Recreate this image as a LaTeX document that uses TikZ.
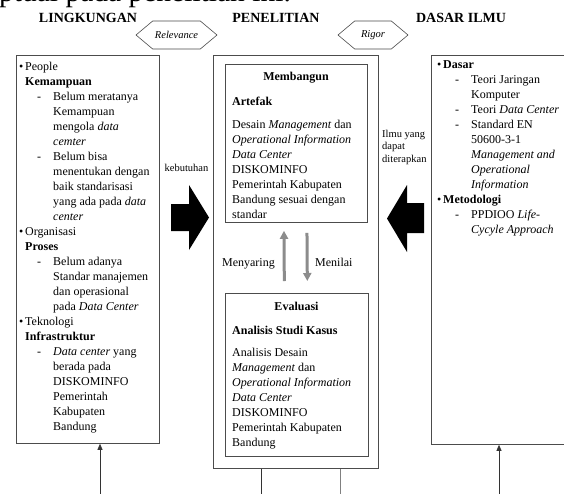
\documentclass[tikz,border=0pt]{standalone}
\usepackage{fontspec}
\setmainfont{Liberation Serif}
\usetikzlibrary{arrows.meta,positioning,shapes.symbols}

\tikzset{
  box/.style={draw=black!70, line width=0.8pt, inner sep=0pt},
  listtxt/.style={font=\fontsize{12}{15}\selectfont, align=left, inner sep=0pt, anchor=north west},
  head/.style={font=\fontsize{14}{16}\selectfont\bfseries, inner sep=0pt, anchor=base},
  hexa/.style={signal, signal to=west and east, draw=black!70, line width=0.6pt,
    signal pointer angle=80, minimum height=28pt, inner sep=0pt,
    font=\fontsize{10.5}{12}\selectfont\itshape},
  small/.style={font=\fontsize{10.5}{12.5}\selectfont, align=left, inner sep=0pt},
  graybar/.style={draw=black!45, line width=3pt, -{Triangle[width=8pt,length=8pt]}},
  feed/.style={draw=black!80, line width=0.8pt, -{Triangle[width=5pt,length=6pt]}},
}
\newcommand{\bul}{\makebox[6pt][l]{\textbullet}}
\newcommand{\ind}{\hspace*{6pt}}
\newcommand{\dsh}{\makebox[34pt][l]{\hspace*{18pt}-}}
\newcommand{\indd}{\hspace*{34pt}}

\begin{document}
\begin{tikzpicture}[x=1pt,y=-1pt]
  \useasboundingbox (0,0) rectangle (564,493);
  \fill[white] (0,0) rectangle (564,493);

  % cut-off line of the page text
  \node[font=\fontsize{29.5}{31}\selectfont, anchor=base west, inner sep=0pt] (intro) at (-1,1.5) {ptual pada penelitian ini.};

  \node[head] (hling) at (88,22.7) {LINGKUNGAN};
  \node[head] (hpenel) at (276,22.7) {PENELITIAN};
  \node[head] (hdasar) at (461,22.7) {DASAR ILMU};
  \node[hexa, minimum width=81pt] (relev) at (176.5,35) {Relevance};
  \node[hexa, minimum width=70pt] (rigor) at (373,35) {Rigor};

  % the three columns
  \node[box, anchor=north west, minimum width=143pt, minimum height=388pt] (ling) at (16,55) {};
  \node[box, anchor=north west, minimum width=165pt, minimum height=413pt] (penel) at (213,55) {};
  \node[box, anchor=north west, minimum width=145pt, minimum height=389pt] (dasar) at (431,55) {};
  \node[box, anchor=north west, minimum width=142pt, minimum height=158pt] (bangun) at (225,64) {};
  \node[box, anchor=north west, minimum width=143pt, minimum height=163pt] (eval) at (225,293) {};

  \node[listtxt] (lingtxt) at (19,59.5) {\strut\bul People\\
    \ind\textbf{Kemampuan}\\
    \dsh Belum meratanya\\
    \indd Kemampuan\\
    \indd mengola \textit{data}\\
    \indd\textit{cemter}\\
    \dsh Belum bisa\\
    \indd menentukan dengan\\
    \indd baik standarisasi\\
    \indd yang ada pada \textit{data}\\
    \indd\textit{center}\\
    \bul Organisasi\\
    \ind\textbf{Proses}\\
    \dsh Belum adanya\\
    \indd Standar manajemen\\
    \indd dan operasional\\
    \indd pada \textit{Data Center}\\
    \bul Teknologi\\
    \ind\textbf{Infrastruktur}\\
    \dsh\textit{Data center} yang\\
    \indd berada pada\\
    \indd DISKOMINFO\\
    \indd Pemerintah\\
    \indd Kabupaten\\
    \indd Bandung};

  \node[listtxt] (dasartxt) at (437,57.8) {\strut\bul\textbf{Dasar}\\
    \dsh Teori Jaringan\\
    \indd Komputer\\
    \dsh Teori \textit{Data Center}\\
    \dsh Standard EN\\
    \indd 50600-3-1\\
    \indd\textit{Management and}\\
    \indd\textit{Operational}\\
    \indd\textit{Information}\\
    \bul\textbf{Metodologi}\\
    \dsh PPDIOO \textit{Life-}\\
    \indd\textit{Cycyle Approach}};

  \node[head, font=\fontsize{12}{15}\selectfont\bfseries] (tbangun) at (296,80) {Membangun};
  \node[head, anchor=base west, font=\fontsize{12}{15}\selectfont\bfseries] (tartefak) at (232,105) {Artefak};
  \node[listtxt] (bangtxt) at (232,117.5) {\strut Desain \textit{Management} dan\\
    \textit{Operational Information}\\
    \textit{Data Center}\\
    DISKOMINFO\\
    Pemerintah Kabupaten\\
    Bandung sesuai dengan\\
    standar};

  \node[head, font=\fontsize{12}{15}\selectfont\bfseries] (teval) at (296.5,310) {Evaluasi};
  \node[head, anchor=base west, font=\fontsize{12}{15}\selectfont\bfseries] (tkasus) at (232,334) {Analisis Studi Kasus};
  \node[listtxt] (evaltxt) at (232,346.2) {\strut Analisis Desain\\
    \textit{Management} dan\\
    \textit{Operational Information}\\
    \textit{Data Center}\\
    DISKOMINFO\\
    Pemerintah Kabupaten\\
    Bandung};

  % between the inner boxes
  \draw[graybar, shorten <=12pt, shorten >=8pt] ([xshift=-12.5pt]eval.north) -- ([xshift=-12.5pt]bangun.south);
  \draw[graybar, shorten <=10pt, shorten >=12pt] ([xshift=10.5pt]bangun.south) -- ([xshift=10.5pt]eval.north);
  \node[anchor=base east, inner sep=0pt, font=\fontsize{12}{15}\selectfont] (menyaring) at (275,266) {Menyaring};
  \node[anchor=base west, inner sep=0pt, font=\fontsize{12}{15}\selectfont] (menilai) at (315,266) {Menilai};

  % big arrows
  \node[small] (kebut) at (186.5,168) {kebutuhan};
  \fill (171,204) -- (189,204) -- (189,185) -- (209,217.5) -- (189,250) -- (189,231) -- (171,231) -- cycle;
  \node[small, anchor=north west] (ilmu) at (382,128.5) {\strut Ilmu yang\\dapat\\diterapkan};
  \fill (424,203) -- (407,203) -- (407,185) -- (387,218.5) -- (407,252) -- (407,233) -- (424,233) -- cycle;

  % in and out at the bottom
  \coordinate (lingin) at (100,500);
  \coordinate (dasarin) at (499,500);
  \draw[feed] (lingin) -- (lingin |- ling.south);
  \draw[feed] (dasarin) -- (dasarin |- dasar.south);
  \draw[black!80, line width=0.8pt] ([xshift=-34.5pt]penel.south) -- ++(0,35);
  \draw[black!50, line width=0.8pt] ([xshift=44.5pt]penel.south) -- ++(0,35);
\end{tikzpicture}
\end{document}
